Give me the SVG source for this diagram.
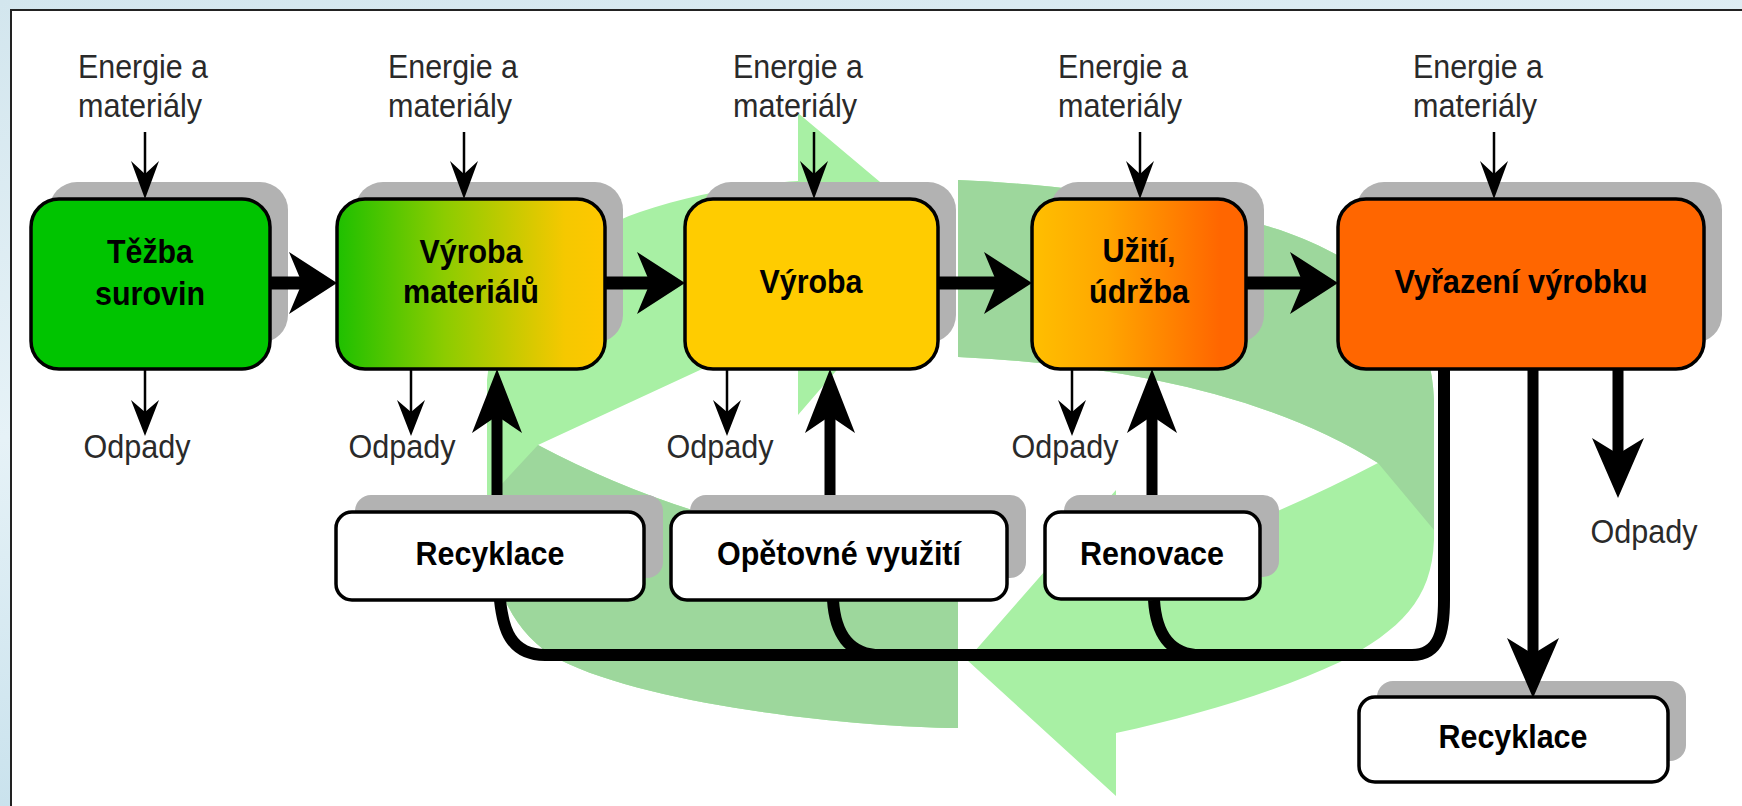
<svg xmlns="http://www.w3.org/2000/svg" width="1742" height="806" viewBox="0 0 1742 806">
<defs>
<linearGradient id="bg" x1="0" y1="0" x2="0.3" y2="1">
<stop offset="0" stop-color="#d3e6ee"/>
<stop offset="0.5" stop-color="#e6f2f7"/>
<stop offset="1" stop-color="#c4dfeb"/>
</linearGradient>
<linearGradient id="g2" x1="0" y1="0" x2="1" y2="0">
<stop offset="0" stop-color="#1ec000"/>
<stop offset="0.4" stop-color="#8ccc00"/>
<stop offset="0.85" stop-color="#f5c800"/>
<stop offset="1" stop-color="#ffc800"/>
</linearGradient>
<linearGradient id="g4" x1="0" y1="0" x2="1" y2="0">
<stop offset="0" stop-color="#ffbf00"/>
<stop offset="0.35" stop-color="#ffa600"/>
<stop offset="0.88" stop-color="#ff6600"/>
<stop offset="1" stop-color="#ff6600"/>
</linearGradient>
<style>
.sh{fill:#b2b2b2}
.bx{stroke:#000;stroke-width:3.5}
.wb{fill:#fff;stroke:#000;stroke-width:3.5}
.t{font-family:"Liberation Sans",Arial,sans-serif;font-size:34px;fill:#2a2a2a}
.b{font-family:"Liberation Sans",Arial,sans-serif;font-size:34px;font-weight:bold;fill:#000;text-anchor:middle}
.m{text-anchor:middle}
.thin{stroke:#000;stroke-width:2.5;fill:none}
.thick{stroke:#000;stroke-width:11;fill:none}
.hz{stroke:#000;stroke-width:13;fill:none}
.bus{stroke:#000;stroke-width:12;fill:none;stroke-linejoin:round}
.hd{fill:#000}
.gl{fill:#a8f0a4}
.gd{fill:#9dd79c}
</style>
</defs>
<rect x="0" y="0" width="1742" height="806" fill="url(#bg)"/>
<rect x="11" y="10" width="1731" height="796" fill="#ffffff"/>
<path d="M11,806 L11,10 L1742,10" stroke="#222" stroke-width="2" fill="none"/>

<g id="cycle">
<path class="gl" d="M958,728 C850,727 650,705 560,660 C505,630 487,570 487,500 L487,380 C495,300 560,240 640,212 C690,195 750,184 798,181 L798,113 L949,240 L798,415 L798,335 C760,345 730,355 700,370 L538,445 Q738,551 958,551 Z"/>
<path class="gd" d="M958,728 C850,727 650,705 560,660 C505,630 487,570 487,500 L538,445 Q738,551 958,551 Z"/>
<path class="gl" d="M958,180 C1080,185 1200,205 1280,230 C1380,265 1432,320 1434,400 L1434,540 C1432,600 1400,630 1340,662 C1280,690 1200,715 1116,733 L1116,796 L967,660 L1116,490 L1116,570 Q1250,530 1378,463 Q1230,370 958,357 Z"/>
<path class="gd" d="M958,180 C1080,185 1200,205 1280,230 C1380,265 1432,320 1434,400 L1434,530 L1378,463 Q1230,370 958,357 Z"/>
</g>

<g id="node-tezba">
<rect class="sh" x="49" y="182" width="239" height="161" rx="28"/>
<rect class="bx" x="31" y="199" width="239" height="170" rx="28" fill="#00c400"/>
<text class="b" x="150" y="263" textLength="86" lengthAdjust="spacingAndGlyphs">Těžba</text>
<text class="b" x="150" y="305" textLength="110" lengthAdjust="spacingAndGlyphs">surovin</text>
</g>
<g id="node-vyroba-materialu">
<rect class="sh" x="355" y="182" width="268" height="161" rx="28"/>
<rect class="bx" x="337" y="199" width="268" height="170" rx="28" fill="url(#g2)"/>
<text class="b" x="471" y="263" textLength="103" lengthAdjust="spacingAndGlyphs">Výroba</text>
<text class="b" x="471" y="303" textLength="136" lengthAdjust="spacingAndGlyphs">materiálů</text>
</g>
<g id="node-vyroba">
<rect class="sh" x="703" y="182" width="253" height="161" rx="28"/>
<rect class="bx" x="685" y="199" width="253" height="170" rx="28" fill="#ffcc00"/>
<text class="b" x="811" y="293" textLength="103" lengthAdjust="spacingAndGlyphs">Výroba</text>
</g>
<g id="node-uziti">
<rect class="sh" x="1050" y="182" width="214" height="161" rx="28"/>
<rect class="bx" x="1032" y="199" width="214" height="170" rx="28" fill="url(#g4)"/>
<text class="b" x="1139" y="262" textLength="73" lengthAdjust="spacingAndGlyphs">Užití,</text>
<text class="b" x="1139" y="303" textLength="100" lengthAdjust="spacingAndGlyphs">údržba</text>
</g>
<g id="node-vyrazeni">
<rect class="sh" x="1356" y="182" width="366" height="161" rx="28"/>
<rect class="bx" x="1338" y="199" width="366" height="170" rx="28" fill="#ff6600"/>
<text class="b" x="1521" y="293" textLength="253" lengthAdjust="spacingAndGlyphs">Vyřazení výrobku</text>
</g>
<g id="node-recyklace-1">
<rect class="sh" x="355" y="495" width="308" height="83" rx="16"/>
<rect class="wb" x="336" y="512" width="308" height="88" rx="16"/>
<text class="b" x="490" y="565" textLength="149" lengthAdjust="spacingAndGlyphs">Recyklace</text>
</g>
<g id="node-opetovne">
<rect class="sh" x="690" y="495" width="336" height="83" rx="16"/>
<rect class="wb" x="671" y="512" width="336" height="88" rx="16"/>
<text class="b" x="839" y="565" textLength="244" lengthAdjust="spacingAndGlyphs">Opětovné využití</text>
</g>
<g id="node-renovace">
<rect class="sh" x="1064" y="495" width="215" height="82" rx="16"/>
<rect class="wb" x="1045" y="512" width="215" height="87" rx="16"/>
<text class="b" x="1152" y="565" textLength="144" lengthAdjust="spacingAndGlyphs">Renovace</text>
</g>
<g id="node-recyklace-2">
<rect class="sh" x="1377" y="681" width="309" height="80" rx="16"/>
<rect class="wb" x="1359" y="697" width="309" height="85" rx="16"/>
<text class="b" x="1513" y="748" textLength="149" lengthAdjust="spacingAndGlyphs">Recyklace</text>
</g>

<g id="labels">
<text class="t" x="78" y="78" textLength="130" lengthAdjust="spacingAndGlyphs">Energie a</text>
<text class="t" x="78" y="117" textLength="124" lengthAdjust="spacingAndGlyphs">materiály</text>
<text class="t" x="388" y="78" textLength="130" lengthAdjust="spacingAndGlyphs">Energie a</text>
<text class="t" x="388" y="117" textLength="124" lengthAdjust="spacingAndGlyphs">materiály</text>
<text class="t" x="733" y="78" textLength="130" lengthAdjust="spacingAndGlyphs">Energie a</text>
<text class="t" x="733" y="117" textLength="124" lengthAdjust="spacingAndGlyphs">materiály</text>
<text class="t" x="1058" y="78" textLength="130" lengthAdjust="spacingAndGlyphs">Energie a</text>
<text class="t" x="1058" y="117" textLength="124" lengthAdjust="spacingAndGlyphs">materiály</text>
<text class="t" x="1413" y="78" textLength="130" lengthAdjust="spacingAndGlyphs">Energie a</text>
<text class="t" x="1413" y="117" textLength="124" lengthAdjust="spacingAndGlyphs">materiály</text>
<text class="t m" x="137" y="458" textLength="107" lengthAdjust="spacingAndGlyphs">Odpady</text>
<text class="t m" x="402" y="458" textLength="107" lengthAdjust="spacingAndGlyphs">Odpady</text>
<text class="t m" x="720" y="458" textLength="107" lengthAdjust="spacingAndGlyphs">Odpady</text>
<text class="t m" x="1065" y="458" textLength="107" lengthAdjust="spacingAndGlyphs">Odpady</text>
<text class="t m" x="1644" y="543" textLength="107" lengthAdjust="spacingAndGlyphs">Odpady</text>
</g>

<g id="connectors">
<path class="thin" d="M145,132 V175 M464,132 V175 M814,132 V175 M1140,132 V175 M1494,132 V175"/>
<path class="hd" d="M145,199 L131,161 L145,174 L159,161 Z M464,199 L450,161 L464,174 L478,161 Z M814,199 L800,161 L814,174 L828,161 Z M1140,199 L1126,161 L1140,174 L1154,161 Z M1494,199 L1480,161 L1494,174 L1508,161 Z"/>
<path class="thin" d="M145,369 V412 M411,369 V412 M727,369 V412 M1072,369 V412"/>
<path class="hd" d="M145,436 L131,400 L145,412 L159,400 Z M411,436 L397,400 L411,412 L425,400 Z M727,436 L713,400 L727,412 L741,400 Z M1072,436 L1058,400 L1072,412 L1086,400 Z"/>
<path class="hz" d="M270,283 H303 M605,283 H651 M938,283 H998 M1246,283 H1304"/>
<path class="hd" d="M337,283 L289,252 L302,283 L289,314 Z M685,283 L637,252 L650,283 L637,314 Z M1032,283 L984,252 L997,283 L984,314 Z M1338,283 L1290,252 L1303,283 L1290,314 Z"/>
<path class="thick" d="M497,495 V415 M830,495 V415 M1152,495 V415"/>
<path class="hd" d="M497,369 L472,433 L497,416 L522,433 Z M830,369 L805,433 L830,416 L855,433 Z M1152,369 L1127,433 L1152,416 L1177,433 Z"/>
<path class="thick" d="M1533,369 V655 M1618,369 V455"/>
<path class="hd" d="M1533,698 L1507,638 L1533,654 L1559,638 Z M1618,498 L1592,438 L1618,454 L1644,438 Z"/>
<path class="bus" d="M500,600 C503,628 510,655 545,655 L1412,655 C1440,655 1444,630 1444,600 L1444,369"/>
<path class="bus" d="M833,600 C835,632 848,655 880,655 M1154,600 C1156,632 1169,655 1200,655"/>
</g>
</svg>
